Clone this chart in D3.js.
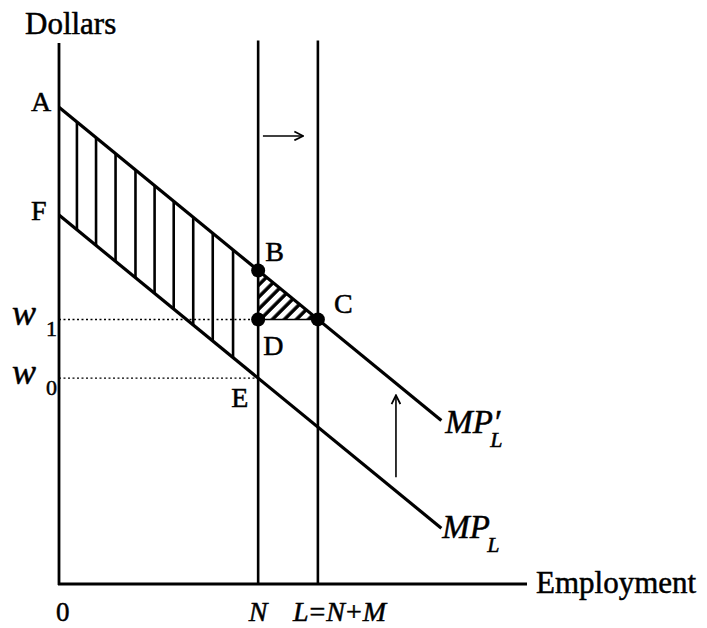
<!DOCTYPE html>
<html>
<head>
<meta charset="utf-8">
<script src="https://cdn.jsdelivr.net/npm/d3@7"></script>
<style>
  body { margin: 0; background: #fff; }
  svg { display: block; font-family: "Liberation Serif", "DejaVu Serif", serif; }
  text { fill: #000; stroke: #000; stroke-width: 0.5px; }
</style>
</head>
<body>
<div id="chart"></div>
<script>
// axis extents (data units)
var xMax = 11.75
var yMax = 11.35

// the two marginal product lines, as end points [employment, dollars]
var mpPrime = [[0, 10], [9.6, 3.43]]
var mp = [[0, 7.74], [9.6, 1.17]]

// employment levels N and L = N + M
var empLevels = [5, 6.5]
var empNames = ["N", "L=N+M"]

// wage levels w1 and w0
var wageLevels = [5.55, 4.32]
var wageSubs = ["1", "0"]

// vertical hatch lines in the surplus area
var hatchX = [0.45, 0.93, 1.42, 1.92, 2.4, 2.88, 3.37, 3.86, 4.37]

// shift arrows
var hArrow = [[5.12, 9.4], [6.13, 9.4]]
var vArrow = [[8.46, 2.24], [8.46, 3.96]]

var width = 707, height = 628

var svg = d3.select("#chart").append("svg")
    .attr("width", width)
    .attr("height", height)

var x = d3.scaleLinear().domain([0, xMax]).range([59, 527])
var y = d3.scaleLinear().domain([0, yMax]).range([584, 43])

var at = (line, v) => d3.scaleLinear().domain([line[0][0], line[1][0]]).range([line[0][1], line[1][1]])(v)

var N = empLevels[0], L = empLevels[1]
var w1 = wageLevels[0], w0 = wageLevels[1]

var B = [N, at(mpPrime, N)]
var D = [N, w1]
var C = [L, at(mpPrime, L)]
var E = [N, at(mp, N)]

// hatch pattern for triangle BDC
var defs = svg.append("defs")
defs.append("pattern")
    .attr("id", "diag")
    .attr("patternUnits", "userSpaceOnUse")
    .attr("width", 8.5).attr("height", 8.5)
    .attr("patternTransform", "rotate(45)")
    .append("line")
    .attr("x1", 2).attr("y1", 0).attr("x2", 2).attr("y2", 8.5)
    .attr("stroke", "#000").attr("stroke-width", 3.5)

defs.append("marker")
    .attr("id", "head")
    .attr("viewBox", "0 0 10 10")
    .attr("refX", 9).attr("refY", 5)
    .attr("markerWidth", 11).attr("markerHeight", 11)
    .attr("markerUnits", "userSpaceOnUse")
    .attr("orient", "auto")
    .append("path")
    .attr("d", "M1,1 L9,5 L1,9")
    .attr("fill", "none").attr("stroke", "#000").attr("stroke-width", 1.6)

var line = d3.line().x(d => x(d[0])).y(d => y(d[1]))

// triangle BDC hatch
svg.append("path")
    .attr("d", line([B, D, C]) + "Z")
    .attr("fill", "url(#diag)")
svg.append("line")
    .attr("x1", x(D[0])).attr("y1", y(D[1]))
    .attr("x2", x(C[0])).attr("y2", y(C[1]))
    .attr("stroke", "#000").attr("stroke-width", 1.5)

// vertical hatch lines between MP and MP'
svg.append("g")
    .selectAll("line")
    .data(hatchX)
    .enter().append("line")
    .attr("x1", d => x(d)).attr("x2", d => x(d))
    .attr("y1", d => y(at(mp, d)))
    .attr("y2", d => y(at(mpPrime, d)))
    .attr("stroke", "#000").attr("stroke-width", 2.6)

// dotted wage lines
svg.append("g")
    .selectAll("line")
    .data(wageLevels)
    .enter().append("line")
    .attr("x1", x(0)).attr("x2", x(N))
    .attr("y1", d => y(d)).attr("y2", d => y(d))
    .attr("stroke", "#000").attr("stroke-width", 1.4)
    .attr("stroke-dasharray", "2,2.5")

// vertical employment lines
svg.append("g")
    .selectAll("line")
    .data(empLevels)
    .enter().append("line")
    .attr("x1", d => x(d)).attr("x2", d => x(d))
    .attr("y1", y(0)).attr("y2", y(11.4))
    .attr("stroke", "#000").attr("stroke-width", 2.6)

// axes
svg.append("line")
    .attr("x1", x(0)).attr("x2", x(0))
    .attr("y1", y(0) + 1).attr("y2", y(yMax))
    .attr("stroke", "#000").attr("stroke-width", 2.8)
svg.append("line")
    .attr("x1", x(0) - 1).attr("x2", x(xMax))
    .attr("y1", y(0)).attr("y2", y(0))
    .attr("stroke", "#000").attr("stroke-width", 2.8)

// MP lines
svg.append("g")
    .selectAll("path")
    .data([mpPrime, mp])
    .enter().append("path")
    .attr("d", d => line(d))
    .attr("fill", "none")
    .attr("stroke", "#000").attr("stroke-width", 3.2)

// points B, D, C
svg.append("g")
    .selectAll("circle")
    .data([B, D, C])
    .enter().append("circle")
    .attr("cx", d => x(d[0])).attr("cy", d => y(d[1]))
    .attr("r", 7)
    .attr("fill", "#000")

// arrows
svg.append("g")
    .selectAll("line")
    .data([hArrow, vArrow])
    .enter().append("line")
    .attr("x1", d => x(d[0][0])).attr("y1", d => y(d[0][1]))
    .attr("x2", d => x(d[1][0])).attr("y2", d => y(d[1][1]))
    .attr("stroke", "#000").attr("stroke-width", 1.6)
    .attr("marker-end", "url(#head)")

// text
var txt = (px, py, s, size, extra) => {
    var t = svg.append("text")
        .attr("x", px).attr("y", py)
        .style("font-size", size + "px")
        .text(s)
    if (extra) extra(t)
    return t
}

txt(25, 34, "Dollars", 31)
txt(x(0) - 28, y(mpPrime[0][1]) + 4, "A", 28)
txt(x(0) - 28, y(mp[0][1]) + 5, "F", 28)

wageLevels.forEach((w, i) => {
    txt(12, y(w) + 6, "w", 36, t => t.style("font-style", "italic"))
    txt(46, y(w) + 17, wageSubs[i], 22)
})

txt(x(B[0]) + 7, y(B[1]) - 9, "B", 28)
txt(x(C[0]) + 16, y(C[1]) - 6, "C", 28)
txt(x(D[0]) + 5, y(D[1]) + 36, "D", 28)
txt(x(E[0]) - 27, y(E[1]) + 29, "E", 28)

// MP labels, subscript drawn as its own text
var mpLabel = (px, py, prime) => {
    txt(px, py, prime ? "MP\u2032" : "MP", 33, t => t.style("font-style", "italic"))
    txt(px + 45, py + 14, "L", 22, t => t.style("font-style", "italic"))
}
mpLabel(x(mpPrime[1][0]) + 4, y(mpPrime[1][1]) + 12, true)
mpLabel(x(mp[1][0]) + 1, y(mp[1][1]) + 10, false)

// axis labels
txt(x(xMax) + 9, y(0) + 9, "Employment", 31)
txt(x(0) - 3, y(0) + 37, "0", 27)
txt(x(N), y(0) + 37, empNames[0], 28, t => t.attr("text-anchor", "middle").style("font-style", "italic"))
var lt = svg.append("text")
    .attr("x", x(L) - 25).attr("y", y(0) + 37)
    .style("font-size", "28px")
    .style("letter-spacing", "1px")
lt.append("tspan").style("font-style", "italic").text("L")
lt.append("tspan").text("=")
lt.append("tspan").style("font-style", "italic").text("N")
lt.append("tspan").text("+")
lt.append("tspan").style("font-style", "italic").text("M")
</script>
</body>
</html>
